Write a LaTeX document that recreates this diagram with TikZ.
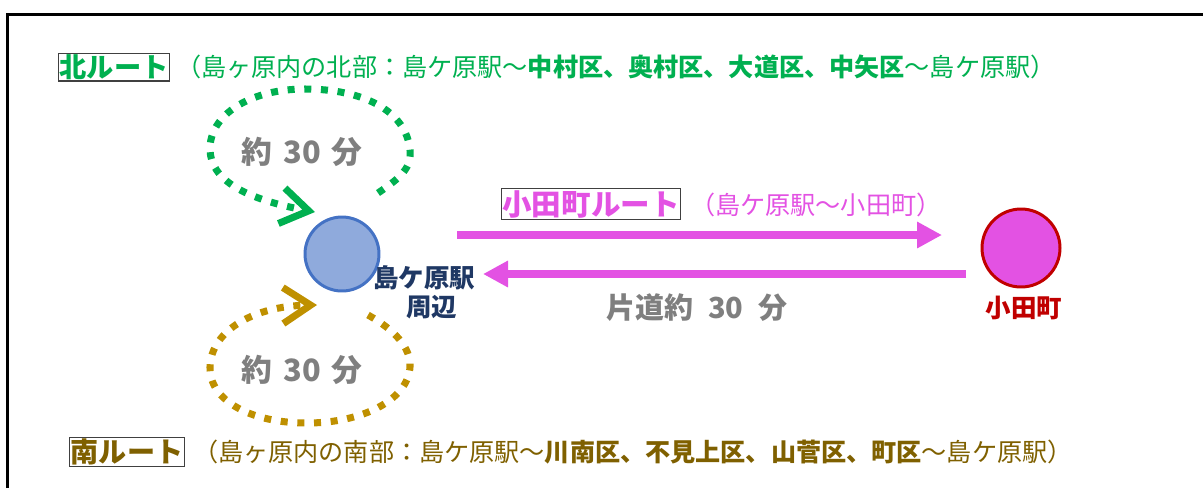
\documentclass[tikz,border=0pt]{standalone}
\usepackage{fontspec}
\setmainfont{Noto Sans CJK JP}
\usetikzlibrary{arrows.meta,calc}

\definecolor{kita}{RGB}{0,176,80}
\definecolor{minamiline}{RGB}{191,144,0}
\definecolor{minami}{RGB}{127,96,0}
\definecolor{odapink}{RGB}{227,82,227}
\definecolor{odared}{RGB}{192,0,0}
\definecolor{stfill}{RGB}{143,170,220}
\definecolor{stline}{RGB}{68,114,196}
\definecolor{stnavy}{RGB}{31,56,100}
\definecolor{mingray}{RGB}{127,127,127}
\definecolor{boxline}{RGB}{64,64,64}

\begin{document}
\begin{tikzpicture}[x=0.02cm,y=-0.02cm,
    routebox/.style={draw=boxline,line width=0.6pt,inner sep=0.8pt},
    dotloop/.style={line width=4pt,dash pattern=on 4pt off 5.5pt,
      -{Straight Barb[length=0.55cm,width=0.72cm]}},
    tripline/.style={odapink,line width=5pt,-{Triangle[length=0.5cm,width=0.5cm]}},
    mins/.style={mingray,font=\bfseries\fontsize{17.5}{19}\selectfont}]
  \useasboundingbox (0,0) rectangle (1203,488);
  \draw[line width=1.7pt] (7.5,488) -- (7.5,14.5) -- (1203,14.5);

  % route titles
  \node[routebox,text=kita,font=\bfseries\fontsize{15.5}{17}\selectfont] (kitabox) at (114,67) {北ルート};
  \node[kita,anchor=west,font=\fontsize{14.3}{16}\selectfont] (kitadesc) at (170,67)
    {（島ヶ原内の北部：島ケ原駅〜\textbf{中村区、奥村区、大道区、中矢区}〜島ケ原駅）};
  \node[routebox,text=minami,font=\bfseries\fontsize{16}{18}\selectfont] (minamibox) at (127,452) {南ルート};
  \node[minami,anchor=west,font=\fontsize{14.3}{16}\selectfont] (minamidesc) at (187,452)
    {（島ヶ原内の南部：島ケ原駅〜\textbf{川南区、不見上区、山菅区、町区}〜島ケ原駅）};
  \node[routebox,text=odapink,font=\bfseries\fontsize{16.8}{18}\selectfont] (odabox) at (591,204) {小田町ルート};
  \node[odapink,anchor=west,font=\fontsize{14.3}{16}\selectfont] (odadesc) at (684,205) {（島ケ原駅〜小田町）};

  % stations
  \node[circle,draw=stline,fill=stfill,line width=1.7pt,minimum size=1.48cm] (station) at (342,254) {};
  \node[stnavy,font=\bfseries\fontsize{14.5}{16.5}\selectfont,align=center] (stlabel) at (424,292) {島ケ原駅\\\hspace*{.6em}周辺};
  \node[circle,draw=odared,fill=odapink,line width=1.7pt,minimum size=1.56cm] (odacho) at (1021,248) {};
  \node[odared,font=\bfseries\fontsize{14.5}{16}\selectfont] (odalabel) at (1024,308) {小田町};

  % loops
  \coordinate (kitastart) at (378,193);
  \coordinate (kitaend) at (315,212);
  \draw[dotloop,kita] (kitastart) .. controls (400,178) and (412,168) .. (410,150)
    .. controls (406,110) and (362,89) .. (305,89)
    .. controls (250,89) and (209,115) .. (210,150)
    .. controls (211,180) and (245,199) .. (kitaend);
  \node[mins] (kitamins) at (302,152) {約\hspace{.35em}30\hspace{.35em}分};

  \coordinate (minamistart) at (368,315);
  \coordinate (minamiend) at (317,305);
  \draw[dotloop,minamiline] (minamistart) .. controls (395,330) and (411,348) .. (410,367)
    .. controls (408,400) and (362,423) .. (307,423)
    .. controls (250,423) and (209,400) .. (210,367)
    .. controls (211,330) and (255,306) .. (minamiend);
  \node[mins] (minamimins) at (302,370) {約\hspace{.35em}30\hspace{.35em}分};

  % odacho trips
  \draw[tripline] ($(station)+(115,-19)$) -- ($(odacho)+(-79,-13)$);
  \draw[tripline] ($(odacho)+(-55,26)$) -- ($(station)+(141,20)$);
  \node[mins,font=\bfseries\fontsize{16.5}{18}\selectfont] (oneway) at (697,308) {片道約\hspace{.5em}30\hspace{.5em}分};
\end{tikzpicture}
\end{document}
